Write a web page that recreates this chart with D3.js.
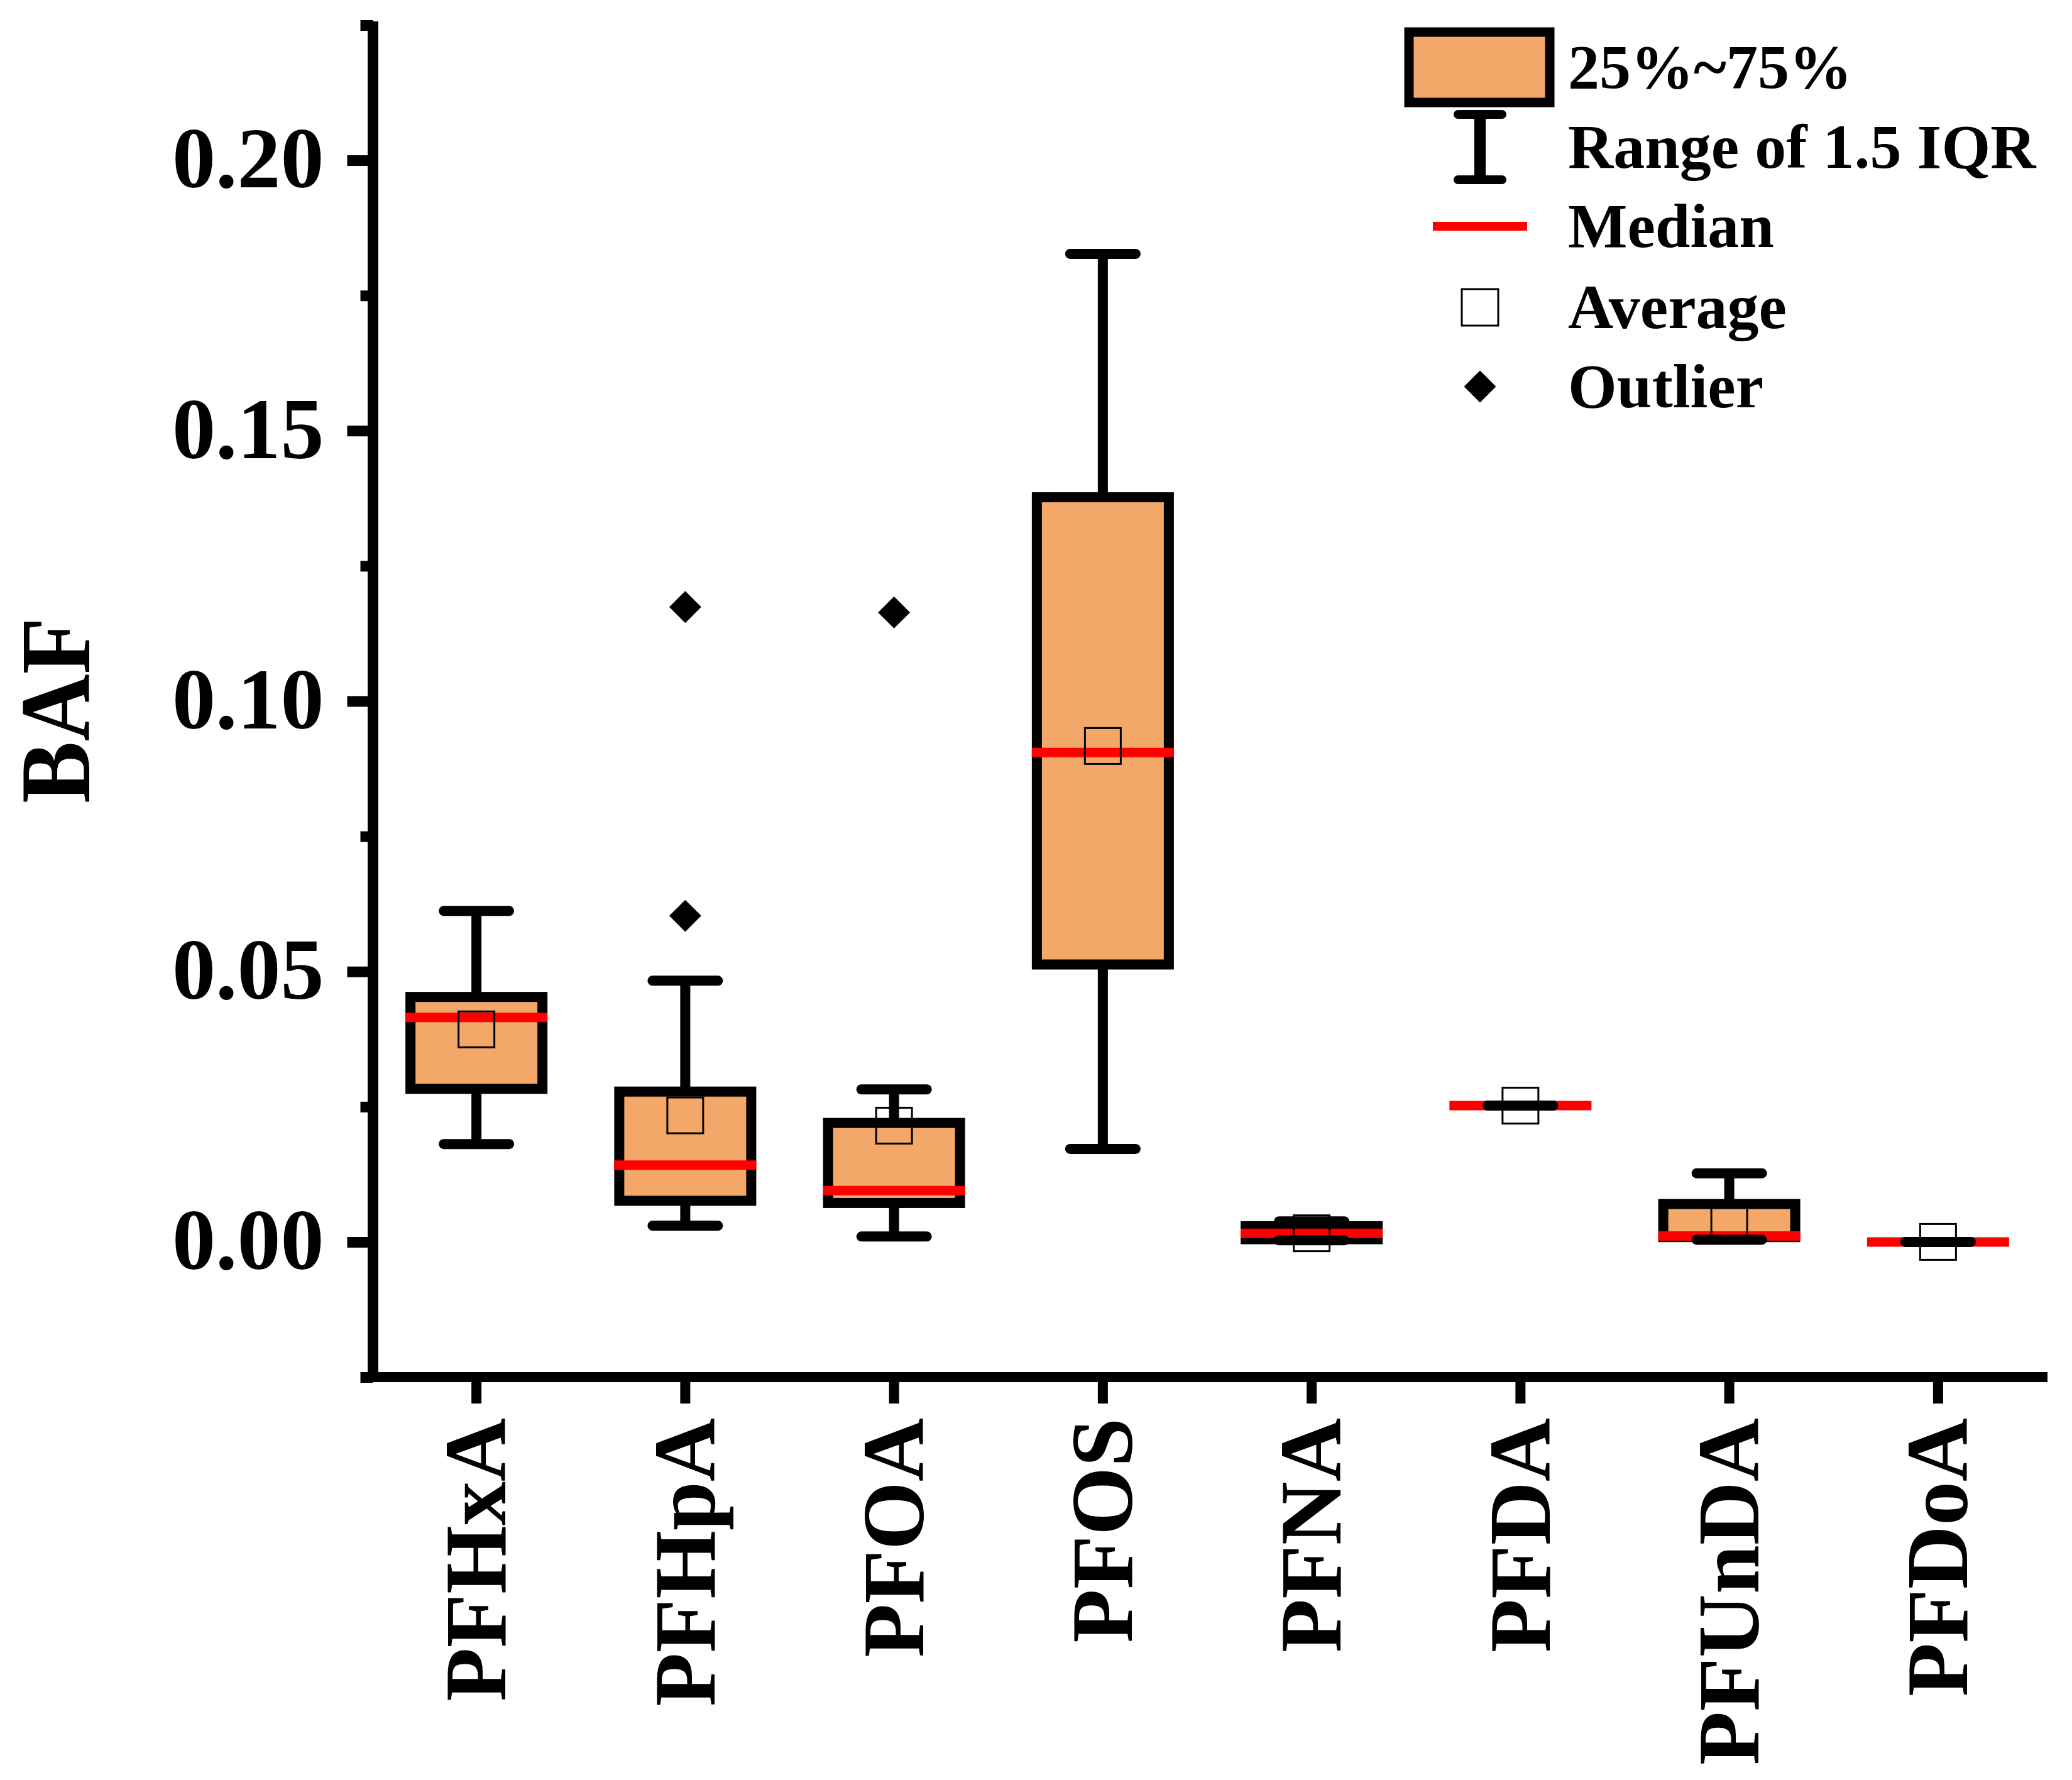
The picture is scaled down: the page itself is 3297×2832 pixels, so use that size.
<!DOCTYPE html>
<html>
<head>
<meta charset="utf-8">
<script src="https://d3js.org/d3.v7.min.js"></script>
<style>
  html, body { margin: 0; padding: 0; background: #fff; }
  svg text { font-family: "Times New Roman", "Liberation Serif", serif; font-weight: bold; fill: #000; }
</style>
</head>
<body>
<script>
// BAF box statistics per compound
var categories  = ["PFHxA", "PFHpA", "PFOA", "PFOS", "PFNA", "PFDA", "PFUnDA", "PFDoA"];
var whiskerLow  = [0.0181, 0.0030, 0.0010, 0.0172, 0.0003, 0.0252, 0.0004, 0.0000];
var q1          = [0.0283, 0.0076, 0.0072, 0.0513, 0.0005, 0.0252, 0.0009, 0.0000];
var median      = [0.0415, 0.0142, 0.0095, 0.0905, 0.0016, 0.0252, 0.0011, 0.0000];
var q3          = [0.0453, 0.0278, 0.0220, 0.1377, 0.0029, 0.0252, 0.0070, 0.0000];
var whiskerHigh = [0.0612, 0.0483, 0.0282, 0.1827, 0.0038, 0.0252, 0.0127, 0.0000];
var average     = [0.0393, 0.0234, 0.0215, 0.0917, 0.0016, 0.0252, 0.0042, 0.0000];
var outliers    = [[], [0.1174, 0.0603], [0.1164], [], [], [], [], []];

var yTicks = [0, 0.05, 0.10, 0.15, 0.20];
var yMinorTicks = [-0.025, 0.025, 0.075, 0.125, 0.175, 0.225];

var legendItems = ["25%~75%", "Range of 1.5 IQR", "Median", "Average", "Outlier"];

var width = 3297, height = 2832;
var boxFill = "#F3A769";

var svg = d3.select("body").append("svg")
    .attr("width", width)
    .attr("height", height);

var x = d3.scaleBand()
    .domain(categories)
    .range([592, 3250]);

var y = d3.scaleLinear()
    .domain([-0.025, 0.225])
    .range([2191, 40]);

var boxes = categories.map(function(c, i) {
  return {
    name: c, lo: whiskerLow[i], q1: q1[i], med: median[i], q3: q3[i],
    hi: whiskerHigh[i], mean: average[i], out: outliers[i]
  };
});

var cx = function(d) { return x(d.name) + x.bandwidth() / 2; };
var boxW = 210, capW = 104, sq = 57;

// axes
var yAxis = svg.append("g")
    .attr("transform", "translate(593.5,0)")
    .call(d3.axisLeft(y).tickValues(yTicks).tickFormat(d3.format(".2f")).tickSize(41).tickPadding(37));
yAxis.select(".domain").attr("stroke-width", 17).attr("d", "M0," + (y(0.225) - 6) + "V2199");
yAxis.selectAll(".tick line").attr("stroke-width", 17);
yAxis.selectAll(".tick text")
    .attr("font-size", 138)
    .attr("dy", "0.31em");

var yMinor = svg.append("g")
    .attr("transform", "translate(593.5,0)")
    .call(d3.axisLeft(y).tickValues(yMinorTicks).tickSize(20).tickFormat(""));
yMinor.select(".domain").remove();
yMinor.selectAll(".tick line").attr("stroke-width", 17);

var xAxis = svg.append("g")
    .attr("transform", "translate(0,2191)")
    .call(d3.axisBottom(x).tickSize(42).tickFormat(""));
xAxis.select(".domain").attr("stroke-width", 16).attr("d", "M585,0H3258");
xAxis.selectAll(".tick line").attr("stroke-width", 16);

svg.append("g").selectAll("text")
    .data(categories)
    .enter().append("text")
      .attr("transform", function(d) { return "translate(" + (x(d) + x.bandwidth() / 2) + ",2256)rotate(-90)"; })
      .attr("text-anchor", "end")
      .attr("dy", "0.33em")
      .attr("font-size", 140)
      .text(function(d) { return d; });

// y axis title
svg.append("text")
    .attr("transform", "translate(141.7,1130)rotate(-90)scale(1,1.07)")
    .attr("text-anchor", "middle")
    .attr("font-size", 148)
    .text("BAF");

// boxes
var g = svg.append("g").selectAll("g")
    .data(boxes)
    .enter().append("g");

g.append("line")
    .attr("x1", cx).attr("x2", cx)
    .attr("y1", function(d) { return y(d.q3); })
    .attr("y2", function(d) { return y(d.hi); })
    .attr("stroke", "#000").attr("stroke-width", 16);
g.append("line")
    .attr("x1", cx).attr("x2", cx)
    .attr("y1", function(d) { return y(d.q1); })
    .attr("y2", function(d) { return y(d.lo); })
    .attr("stroke", "#000").attr("stroke-width", 16);

g.append("rect")
    .attr("x", function(d) { return cx(d) - boxW / 2; })
    .attr("width", boxW)
    .attr("y", function(d) { return y(d.q3); })
    .attr("height", function(d) { return y(d.q1) - y(d.q3); })
    .attr("fill", boxFill)
    .attr("stroke", "#000")
    .attr("stroke-width", 16);

g.append("line")
    .attr("x1", function(d) { return cx(d) - boxW / 2 - 8; })
    .attr("x2", function(d) { return cx(d) + boxW / 2 + 8; })
    .attr("y1", function(d) { return y(d.med); })
    .attr("y2", function(d) { return y(d.med); })
    .attr("stroke", "#FF0000").attr("stroke-width", 15);

["hi", "lo"].forEach(function(k) {
  g.append("line")
      .attr("x1", function(d) { return cx(d) - capW / 2; })
      .attr("x2", function(d) { return cx(d) + capW / 2; })
      .attr("y1", function(d) { return y(d[k]); })
      .attr("y2", function(d) { return y(d[k]); })
      .attr("stroke", "#000").attr("stroke-width", 16)
      .attr("stroke-linecap", "round");
});

g.append("rect")
    .attr("x", function(d) { return cx(d) - sq / 2; })
    .attr("y", function(d) { return y(d.mean) - sq / 2; })
    .attr("width", sq).attr("height", sq)
    .attr("fill", "none")
    .attr("stroke", "#000").attr("stroke-width", 3);

var diamond = d3.symbol().type(d3.symbolDiamond2).size(1650);

g.selectAll(".outlier")
    .data(function(d) { return d.out.map(function(v) { return { c: cx(d), v: v }; }); })
    .enter().append("path")
      .attr("class", "outlier")
      .attr("d", diamond)
      .attr("transform", function(o) { return "translate(" + o.c + "," + y(o.v) + ")"; })
      .attr("fill", "#000");

// legend
var legend = svg.append("g");
var lx = 2355, rowY = [107, 234, 360, 489, 615];

legend.append("rect")
    .attr("x", lx - 113).attr("y", rowY[0] - 56)
    .attr("width", 224).attr("height", 112)
    .attr("fill", boxFill).attr("stroke", "#000").attr("stroke-width", 15);

legend.append("line")
    .attr("x1", lx).attr("x2", lx).attr("y1", 182).attr("y2", 286)
    .attr("stroke", "#000").attr("stroke-width", 18);
[182, 286].forEach(function(cy) {
  legend.append("line")
      .attr("x1", lx - 35).attr("x2", lx + 35).attr("y1", cy).attr("y2", cy)
      .attr("stroke", "#000").attr("stroke-width", 14).attr("stroke-linecap", "round");
});

legend.append("line")
    .attr("x1", lx - 75).attr("x2", lx + 75).attr("y1", rowY[2]).attr("y2", rowY[2])
    .attr("stroke", "#FF0000").attr("stroke-width", 14);

legend.append("rect")
    .attr("x", lx - 29).attr("y", rowY[3] - 29)
    .attr("width", 58).attr("height", 58)
    .attr("fill", "none").attr("stroke", "#000").attr("stroke-width", 3);

legend.append("path")
    .attr("d", diamond)
    .attr("transform", "translate(" + lx + "," + rowY[4] + ")")
    .attr("fill", "#000");

legend.selectAll(".ltext")
    .data(legendItems)
    .enter().append("text")
      .attr("class", "ltext")
      .attr("x", 2495)
      .attr("y", function(d, i) { return rowY[i]; })
      .attr("dy", "0.33em")
      .attr("font-size", 100)
      .text(function(d) { return d; });
</script>
</body>
</html>
